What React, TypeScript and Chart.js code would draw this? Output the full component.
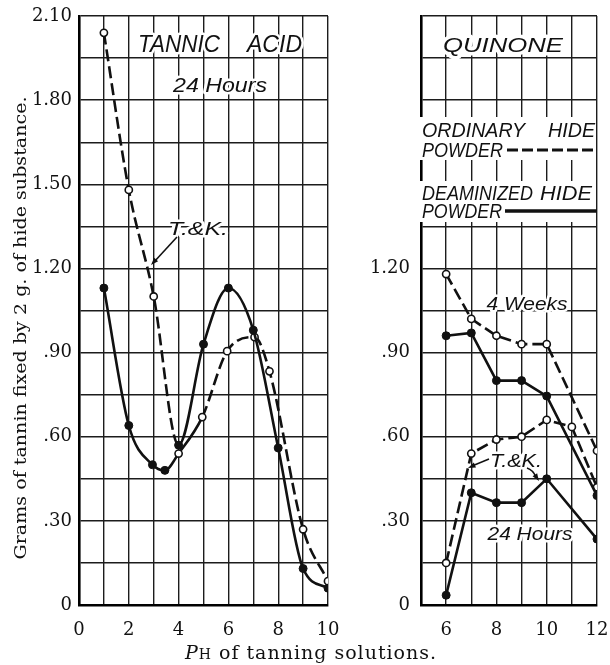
import React, { useEffect, useRef } from 'react';
import { Chart, registerables } from 'chart.js';

Chart.register(...registerables);

// ---------- Left panel: Tannic acid, 24 hours ----------
// curve that starts with T.&K. open circles (dashed) and continues with filled points (solid)
const tannicUpperX = [1, 2, 3, 4, 5, 6, 7, 8, 9, 10];
const tannicUpperY = [2.04, 1.48, 1.1, 0.57, 0.93, 1.13, 0.98, 0.56, 0.13, 0.06];
const tannicUpperOpen = [true, true, true, false, false, false, false, false, false, false];
const tannicUpperDashedUntil = 3; // segments before this index are dashed

// curve that starts with filled points (solid) and continues with open circles (dashed)
const tannicLowerX = [1, 2, 2.95, 3.45, 4, 4.95, 5.95, 7.05, 7.65, 9, 10];
const tannicLowerY = [1.13, 0.64, 0.5, 0.48, 0.54, 0.67, 0.905, 0.955, 0.833, 0.27, 0.085];
const tannicLowerOpen = [false, false, false, false, true, true, true, true, true, true, true];
const tannicLowerDashedFrom = 5; // segments from this index are dashed

// ---------- Right panel: Quinone ----------
const quinoneX = [6, 7, 8, 9, 10, 12];
const quinoneX24Ord = [6, 7, 8, 9, 10, 11, 12];
const ordinary4Weeks = [1.18, 1.02, 0.96, 0.93, 0.93, 0.55];
const deaminized4Weeks = [0.96, 0.97, 0.8, 0.8, 0.745, 0.39];
const ordinary24Hours = [0.15, 0.54, 0.59, 0.6, 0.66, 0.635, 0.42];
const deaminized24Hours = [0.035, 0.4, 0.365, 0.365, 0.45, 0.235];

// ---------- Axes ----------
const yGridValues = [0, 0.15, 0.3, 0.45, 0.6, 0.75, 0.9, 1.05, 1.2, 1.35, 1.5, 1.65, 1.8, 1.95, 2.1];
const leftYLabels = ['0', '.30', '.60', '.90', '1.20', '1.50', '1.80', '2.10'];
const rightYLabels = ['0', '.30', '.60', '.90', '1.20'];
const leftXGridValues = [0, 1, 2, 3, 4, 5, 6, 7, 8, 9, 10];
const leftXLabels = ['0', '2', '4', '6', '8', '10'];
const rightXGridValues = [5, 6, 7, 8, 9, 10, 11, 12];
const rightXLabels = ['6', '8', '10', '12'];

const INK = '#111';
const DASH = [12, 5];
const SANS = '"Liberation Sans"';
const SERIF = '"DejaVu Serif"';

type LabelOpts = {
  size: number;
  align?: CanvasTextAlign;
  width?: number;
  family?: string;
  italic?: boolean;
  halo?: number;
  baseline?: CanvasTextBaseline;
};

function label(ctx: CanvasRenderingContext2D, text: string, x: number, y: number, o: LabelOpts) {
  ctx.save();
  ctx.font = `${o.italic === false ? '' : 'italic '}${o.size}px ${o.family || SANS}`;
  const w = ctx.measureText(text).width;
  const sx = o.width ? o.width / w : 1;
  ctx.translate(x, y);
  ctx.scale(sx, 1);
  ctx.textAlign = o.align || 'left';
  ctx.textBaseline = o.baseline || 'alphabetic';
  if (o.halo) {
    ctx.strokeStyle = '#fff';
    ctx.lineWidth = o.halo;
    ctx.lineJoin = 'round';
    ctx.strokeText(text, 0, 0);
  }
  ctx.fillStyle = INK;
  ctx.fillText(text, 0, 0);
  ctx.restore();
}

function arrowHead(ctx: CanvasRenderingContext2D, fx: number, fy: number, tx: number, ty: number) {
  const a = Math.atan2(ty - fy, tx - fx);
  const len = 8;
  const spread = 0.35;
  ctx.beginPath();
  ctx.moveTo(tx, ty);
  ctx.lineTo(tx - len * Math.cos(a - spread), ty - len * Math.sin(a - spread));
  ctx.lineTo(tx - len * Math.cos(a + spread), ty - len * Math.sin(a + spread));
  ctx.closePath();
  ctx.fill();
}

function yScale(labels: string[], width: number, pad: number) {
  return {
    type: 'linear' as const,
    min: 0,
    max: 2.1,
    afterBuildTicks: (s: any) => {
      s.ticks = yGridValues.map((v) => ({ value: v }));
    },
    afterFit: (s: any) => {
      s.width = width;
      s.paddingTop = 0;
      s.paddingBottom = 0;
      s.paddingLeft = 0;
      s.paddingRight = 0;
    },
    grid: { color: '#1c1c1c', lineWidth: 1.4, drawTicks: false },
    border: { display: true, color: '#000', width: 2.6 },
    ticks: {
      autoSkip: false,
      padding: pad,
      color: INK,
      font: { family: 'DejaVu Serif', size: 18 },
      callback: (_v: any, i: number) => (i % 2 === 0 && labels[i / 2] !== undefined ? labels[i / 2] : ''),
    },
  };
}

function xScale(min: number, max: number, grid: number[], labelOf: (i: number) => string) {
  return {
    type: 'linear' as const,
    min,
    max,
    afterBuildTicks: (s: any) => {
      s.ticks = grid.map((v) => ({ value: v }));
    },
    afterFit: (s: any) => {
      s.height = 60;
      s.paddingTop = 0;
      s.paddingBottom = 0;
      s.paddingLeft = 0;
      s.paddingRight = 0;
    },
    grid: { color: '#1c1c1c', lineWidth: 1.4, drawTicks: false },
    border: { display: true, color: '#000', width: 2.6 },
    ticks: {
      autoSkip: false,
      maxRotation: 0,
      padding: 15,
      color: INK,
      font: { family: 'DejaVu Serif', size: 18 },
      callback: (_v: any, i: number) => labelOf(i),
    },
  };
}

function pts(xs: number[], ys: number[]) {
  return ys.map((y, i) => ({ x: xs[i], y }));
}

const leftAnnotations = {
  id: 'leftAnnotations',
  afterDraw(chart: any) {
    const ctx: CanvasRenderingContext2D = chart.ctx;
    // y axis title
    ctx.save();
    ctx.translate(22, 328);
    ctx.rotate(-Math.PI / 2);
    label(ctx, 'Grams of tannin fixed by 2 g. of hide substance.', 0, 0, {
      size: 17,
      align: 'center',
      family: SERIF,
      italic: false,
      baseline: 'middle',
      width: 463,
    });
    ctx.restore();

    label(ctx, 'TANNIC', 138, 52, { size: 23, width: 82, halo: 5 });
    label(ctx, 'ACID', 247, 52, { size: 23, width: 55, halo: 5 });
    label(ctx, '24 Hours', 220, 92, { size: 20, align: 'center', width: 94, halo: 5 });
    label(ctx, 'T.&K.', 198, 235, { size: 19, align: 'center', width: 60, halo: 5 });

    ctx.save();
    ctx.strokeStyle = INK;
    ctx.fillStyle = INK;
    ctx.lineWidth = 1.6;
    ctx.beginPath();
    ctx.moveTo(177, 237);
    ctx.lineTo(154, 262);
    ctx.stroke();
    arrowHead(ctx, 177, 237, 151, 265);
    ctx.restore();
  },
};

const rightAnnotations = {
  id: 'rightAnnotations',
  afterDraw(chart: any) {
    const ctx: CanvasRenderingContext2D = chart.ctx;
    const ox = -345; // canvas offset relative to the page
    const X = (x: number) => x + ox;

    label(ctx, 'QUINONE', X(503), 52, { size: 21, align: 'center', width: 120, halo: 7 });

    // legend block
    ctx.save();
    ctx.fillStyle = '#fff';
    ctx.fillRect(X(419), 117, 177, 43);
    ctx.fillRect(X(419), 181, 177, 41);
    ctx.restore();

    label(ctx, 'ORDINARY', X(422), 137, { size: 21, width: 103 });
    label(ctx, 'HIDE', X(595), 137, { size: 21, align: 'right', width: 47 });
    label(ctx, 'POWDER', X(422), 157, { size: 21, width: 81 });
    label(ctx, 'DEAMINIZED', X(422), 200, { size: 21, width: 111 });
    label(ctx, 'HIDE', X(592), 200, { size: 21, align: 'right', width: 52 });
    label(ctx, 'POWDER', X(422), 218, { size: 21, width: 80 });

    ctx.save();
    ctx.strokeStyle = INK;
    ctx.lineWidth = 3;
    ctx.setLineDash([11, 4]);
    ctx.beginPath();
    ctx.moveTo(X(507), 150);
    ctx.lineTo(X(597), 150);
    ctx.stroke();
    ctx.setLineDash([]);
    ctx.lineWidth = 3.5;
    ctx.beginPath();
    ctx.moveTo(X(505), 211);
    ctx.lineTo(X(597), 211);
    ctx.stroke();
    ctx.restore();

    label(ctx, '4 Weeks', X(527), 310, { size: 19, align: 'center', width: 81, halo: 5 });
    label(ctx, 'T.&K.', X(516), 467, { size: 18, align: 'center', width: 52, halo: 5 });
    label(ctx, '24 Hours', X(530), 540, { size: 19, align: 'center', width: 85, halo: 5 });

    ctx.save();
    ctx.strokeStyle = INK;
    ctx.fillStyle = INK;
    ctx.lineWidth = 1.5;
    ctx.beginPath();
    ctx.moveTo(X(489), 459);
    ctx.lineTo(X(472), 466);
    ctx.stroke();
    arrowHead(ctx, X(489), 459, X(468), 468);
    ctx.beginPath();
    ctx.moveTo(X(527), 468);
    ctx.quadraticCurveTo(X(533), 470, X(536), 477);
    ctx.stroke();
    arrowHead(ctx, X(533), 472, X(539), 481);
    ctx.restore();
  },
};

function dataset(data: any[], open: boolean[], dashed: (i: number) => boolean, smooth: boolean) {
  return {
    data,
    borderColor: INK,
    borderWidth: 2.6,
    backgroundColor: INK,
    pointBackgroundColor: open.map((o) => (o ? '#fff' : INK)),
    pointBorderColor: INK,
    pointBorderWidth: open.map((o) => (o ? 1.6 : 1)),
    pointRadius: open.map((o) => (o ? 3.6 : 4)),
    tension: smooth ? 0.4 : 0,
    cubicInterpolationMode: smooth ? ('monotone' as const) : ('default' as const),
    segment: {
      borderDash: (c: any) => (dashed(c.p0DataIndex) ? DASH : undefined),
    },
  };
}

export default function App() {
  const leftRef = useRef<HTMLCanvasElement>(null);
  const rightRef = useRef<HTMLCanvasElement>(null);

  useEffect(() => {
    const left = new Chart(leftRef.current as HTMLCanvasElement, {
      type: 'line',
      data: {
        datasets: [
          dataset(pts(tannicUpperX, tannicUpperY), tannicUpperOpen, (i) => i < tannicUpperDashedUntil, true),
          dataset(pts(tannicLowerX, tannicLowerY), tannicLowerOpen, (i) => i >= tannicLowerDashedFrom, true),
        ] as any,
      },
      options: {
        responsive: false,
        animation: false,
        layout: { padding: { top: 16, right: 17, left: 0, bottom: 0 } },
        plugins: { legend: { display: false }, tooltip: { enabled: false } },
        scales: {
          x: xScale(0, 10, leftXGridValues, (i) => (i % 2 === 0 ? leftXLabels[i / 2] : '')) as any,
          y: yScale(leftYLabels, 79, 7) as any,
        },
      },
      plugins: [leftAnnotations],
    });

    const allOpen = (n: number) => new Array(n).fill(true);
    const allFilled = (n: number) => new Array(n).fill(false);
    const right = new Chart(rightRef.current as HTMLCanvasElement, {
      type: 'line',
      data: {
        datasets: [
          dataset(pts(quinoneX, ordinary4Weeks), allOpen(quinoneX.length), () => true, false),
          dataset(pts(quinoneX, deaminized4Weeks), allFilled(quinoneX.length), () => false, false),
          dataset(pts(quinoneX24Ord, ordinary24Hours), allOpen(quinoneX24Ord.length), () => true, false),
          dataset(pts(quinoneX, deaminized24Hours), allFilled(quinoneX.length), () => false, false),
        ] as any,
      },
      options: {
        responsive: false,
        animation: false,
        layout: { padding: { top: 16, right: 13, left: 0, bottom: 0 } },
        plugins: { legend: { display: false }, tooltip: { enabled: false } },
        scales: {
          x: xScale(5, 12, rightXGridValues, (i) => (i % 2 === 1 ? rightXLabels[(i - 1) / 2] : '')) as any,
          y: yScale(rightYLabels, 76, 11) as any,
        },
      },
      plugins: [rightAnnotations],
    });

    return () => {
      left.destroy();
      right.destroy();
    };
  }, []);

  return (
    <div style={{ position: 'absolute', left: 0, top: 0, width: 610, height: 665, background: '#fff', overflow: 'hidden' }}>
      <canvas ref={leftRef} width={345} height={665} style={{ position: 'absolute', left: 0, top: 0 }} />
      <canvas ref={rightRef} width={265} height={665} style={{ position: 'absolute', left: 345, top: 0 }} />
      <div
        style={{
          position: 'absolute',
          left: 0,
          top: 642,
          width: 622,
          textAlign: 'center',
          fontFamily: '"DejaVu Serif"',
          fontSize: 19,
          letterSpacing: '1px',
          lineHeight: '20px',
          color: INK,
          whiteSpace: 'nowrap',
        }}
      >
        <i>P</i>
        <span style={{ fontSize: 14 }}>H</span> of tanning solutions.
      </div>
    </div>
  );
}
